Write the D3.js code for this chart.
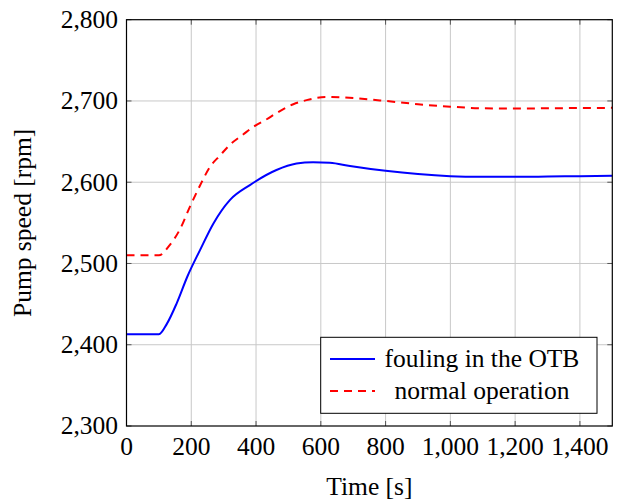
<!DOCTYPE html>
<html>
<head>
<meta charset="utf-8">
<script src="https://cdn.jsdelivr.net/npm/d3@7/dist/d3.min.js"></script>
<style>
  html, body { margin: 0; padding: 0; background: #fff; }
  svg { display: block; }
  text { font-family: "Liberation Serif", "Times New Roman", Times, serif; fill: #000; }
</style>
</head>
<body>
<svg id="chart" width="621" height="504"></svg>
<script>
// Pump speed response over time for two operating cases
const foulingTime = [0, 100, 125, 155, 188, 227, 268, 319, 381, 463, 525, 576, 628, 690, 800, 900, 1000, 1100, 1200, 1300, 1400, 1500];
const foulingSpeed = [2413, 2413, 2426, 2451, 2484, 2516.5, 2549, 2578, 2596.5, 2615, 2623, 2624.7, 2624, 2620, 2614, 2610, 2607.5, 2606.7, 2606.6, 2607, 2607.5, 2608];

const normalTime = [0, 100, 134, 165, 196, 227, 258, 289, 319, 361, 391, 433, 463, 515, 556, 618, 659, 700, 800, 900, 1000, 1100, 1200, 1300, 1400, 1500];
const normalSpeed = [2510, 2510, 2523, 2542, 2570, 2596, 2619, 2633, 2646, 2659, 2668, 2677.5, 2685, 2696, 2701, 2705, 2704.5, 2703.5, 2700, 2696, 2693, 2691, 2690.7, 2691, 2691.3, 2691.5];

const xTicks = [0, 200, 400, 600, 800, 1000, 1200, 1400];
const yTicks = [2300, 2400, 2500, 2600, 2700, 2800];
const seriesNames = ["fouling in the OTB", "normal operation"];

const svg = d3.select("#chart");
const plotLeft = 126.5, plotTop = 19.7, plotRight = 612.3, plotBottom = 426;

const x = d3.scaleLinear().domain([0, 1500]).range([plotLeft, plotRight]);
const y = d3.scaleLinear().domain([2300, 2800]).range([plotBottom, plotTop]);
const fmt = d3.format(",");

// grid
const grid = svg.append("g").attr("stroke", "#c8c8c8").attr("stroke-width", 1);
xTicks.filter(t => t > 0).forEach(t => {
  grid.append("line").attr("x1", x(t)).attr("x2", x(t)).attr("y1", plotTop).attr("y2", plotBottom);
});
yTicks.filter(t => t > 2300 && t < 2800).forEach(t => {
  grid.append("line").attr("x1", plotLeft).attr("x2", plotRight).attr("y1", y(t)).attr("y2", y(t));
});

// inward tick marks on all four sides
const ticks = svg.append("g").attr("stroke", "#555").attr("stroke-width", 1);
xTicks.forEach(t => {
  ticks.append("line").attr("x1", x(t)).attr("x2", x(t)).attr("y1", plotBottom).attr("y2", plotBottom - 5);
  ticks.append("line").attr("x1", x(t)).attr("x2", x(t)).attr("y1", plotTop).attr("y2", plotTop + 5);
});
yTicks.forEach(t => {
  ticks.append("line").attr("x1", plotLeft).attr("x2", plotLeft + 5).attr("y1", y(t)).attr("y2", y(t));
  ticks.append("line").attr("x1", plotRight).attr("x2", plotRight - 5).attr("y1", y(t)).attr("y2", y(t));
});

// series
const line = d3.line().x(d => x(d[0])).y(d => y(d[1])).curve(d3.curveMonotoneX);
const fouling = foulingTime.map((t, i) => [t, foulingSpeed[i]]);
const normal = normalTime.map((t, i) => [t, normalSpeed[i]]);

const plot = svg.append("g");
plot.append("path").datum(fouling).attr("d", line)
  .attr("fill", "none").attr("stroke", "#0000ff").attr("stroke-width", 2);
plot.append("path").datum(normal).attr("d", line)
  .attr("fill", "none").attr("stroke", "#ff0000").attr("stroke-width", 2)
  .attr("stroke-dasharray", "8,6");

// frame
svg.append("rect").attr("x", plotLeft).attr("y", plotTop)
  .attr("width", plotRight - plotLeft).attr("height", plotBottom - plotTop)
  .attr("fill", "none").attr("stroke", "#000").attr("stroke-width", 1.2);

// tick labels
const fs = 25.5;
svg.append("g").selectAll("text").data(xTicks).join("text")
  .attr("x", d => x(d)).attr("y", 455)
  .attr("text-anchor", "middle").attr("font-size", fs)
  .text(d => fmt(d));
svg.append("g").selectAll("text").data(yTicks).join("text")
  .attr("x", 118).attr("y", d => y(d)).attr("dy", "0.33em")
  .attr("text-anchor", "end").attr("font-size", fs)
  .text(d => fmt(d));

// axis titles
svg.append("text").attr("x", (plotLeft + plotRight) / 2).attr("y", 495)
  .attr("text-anchor", "middle").attr("font-size", fs).text("Time [s]");
svg.append("text")
  .attr("transform", `translate(31, ${(plotTop + plotBottom) / 2}) rotate(-90)`)
  .attr("text-anchor", "middle").attr("font-size", fs).text("Pump speed [rpm]");

// legend
const lg = svg.append("g");
lg.append("rect").attr("x", 320.7).attr("y", 337.3).attr("width", 276.3).attr("height", 76)
  .attr("fill", "#fff").attr("stroke", "#000").attr("stroke-width", 1);
const rows = [
  { name: seriesNames[0], color: "#0000ff", dash: null, cy: 359 },
  { name: seriesNames[1], color: "#ff0000", dash: "8,6", cy: 391 }
];
rows.forEach(r => {
  lg.append("line").attr("x1", 330).attr("x2", 375).attr("y1", r.cy).attr("y2", r.cy)
    .attr("stroke", r.color).attr("stroke-width", 2)
    .attr("stroke-dasharray", r.dash);
  lg.append("text").attr("x", 482).attr("y", r.cy).attr("dy", "0.3em")
    .attr("text-anchor", "middle").attr("font-size", fs).text(r.name);
});
</script>
</body>
</html>
